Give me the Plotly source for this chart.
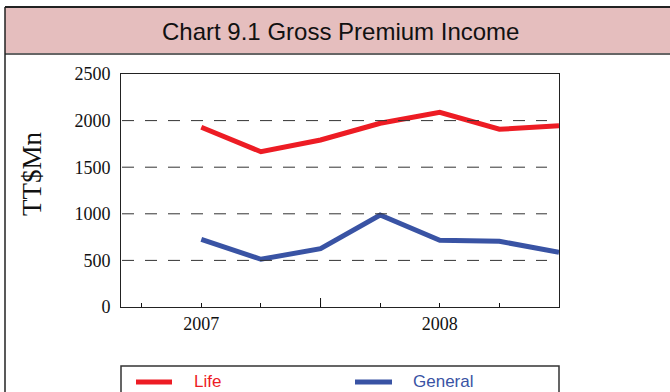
import plotly.graph_objects as go

# Quarterly gross premium income, TT$ millions
quarter = [1, 2, 3, 4, 5, 6, 7]
life = [1928, 1666, 1792, 1971, 2089, 1907, 1945]
general = [726, 512, 626, 987, 716, 705, 587]

year_ticks = [1, 5]
year_labels = ["2007", "2008"]
y_ticks = [0, 500, 1000, 1500, 2000, 2500]
grid_vals = [500, 1000, 1500, 2000]

RED = "#ED1C24"
BLUE = "#3953A4"

W, H = 670, 392
L, R, T, B = 121, 559, 74, 307


def px(x):
    return (x - L) / (R - L)


def py(y):
    return (B - y) / (B - T)


fig = go.Figure()
fig.add_trace(go.Scatter(x=quarter, y=life, mode="lines", name="Life",
                         line=dict(color=RED, width=5), showlegend=False))
fig.add_trace(go.Scatter(x=quarter, y=general, mode="lines", name="General",
                         line=dict(color=BLUE, width=5), showlegend=False))

shapes = []
# title band
shapes.append(dict(type="rect", xref="paper", yref="paper",
                   x0=px(5), x1=px(675), y0=py(54), y1=py(7),
                   fillcolor="#E5BEBE", line=dict(width=0), layer="below"))
shapes.append(dict(type="line", xref="paper", yref="paper",
                   x0=px(5), x1=px(675), y0=py(7), y1=py(7),
                   line=dict(color="#222222", width=2)))
shapes.append(dict(type="line", xref="paper", yref="paper",
                   x0=px(5), x1=px(675), y0=py(54), y1=py(54),
                   line=dict(color="#666666", width=2)))
shapes.append(dict(type="line", xref="paper", yref="paper",
                   x0=px(5), x1=px(5), y0=py(7), y1=py(400),
                   line=dict(color="#222222", width=1.5)))
# dashed grid
for v in grid_vals:
    shapes.append(dict(type="line", xref="paper", yref="y",
                       x0=px(122), x1=px(547), y0=v, y1=v,
                       line=dict(color="#333333", width=1, dash="12px,11px")))
# year divider tick
shapes.append(dict(type="line", xref="x", yref="paper",
                   x0=3, x1=3, y0=0, y1=9 / (B - T),
                   line=dict(color="#111111", width=1)))
# legend box and keys
shapes.append(dict(type="rect", xref="paper", yref="paper",
                   x0=px(121), x1=px(559), y0=py(366), y1=py(400),
                   line=dict(color="#333333", width=1.5), fillcolor="rgba(0,0,0,0)"))
shapes.append(dict(type="line", xref="paper", yref="paper",
                   x0=px(136), x1=px(172), y0=py(382), y1=py(382),
                   line=dict(color=RED, width=5)))
shapes.append(dict(type="line", xref="paper", yref="paper",
                   x0=px(355), x1=px(392), y0=py(382), y1=py(382),
                   line=dict(color=BLUE, width=5)))

annotations = [
    dict(text="Chart 9.1 Gross Premium Income", xref="paper", yref="paper",
         x=px(340), y=py(32), showarrow=False, xanchor="center", yanchor="middle",
         font=dict(family="Liberation Sans", size=24, color="#111111")),
    dict(text="TT$Mn", xref="paper", yref="paper", x=px(32), y=py(174),
         showarrow=False, textangle=-90, xanchor="center", yanchor="middle",
         font=dict(family="Liberation Serif", size=27, color="#111111")),
    dict(text="Life", xref="paper", yref="paper", x=px(192), y=py(381),
         showarrow=False, xanchor="left", yanchor="middle",
         font=dict(family="Liberation Sans", size=17, color=RED)),
    dict(text="General", xref="paper", yref="paper", x=px(411), y=py(381),
         showarrow=False, xanchor="left", yanchor="middle",
         font=dict(family="Liberation Sans", size=17, color=BLUE)),
]

fig.update_layout(
    width=W, height=H,
    margin=dict(l=L, r=W - R, t=T, b=H - B),
    paper_bgcolor="white", plot_bgcolor="white",
    showlegend=False,
    shapes=shapes, annotations=annotations,
    xaxis=dict(range=[-0.347, 7], tickvals=year_ticks, ticktext=year_labels,
               ticks="inside", ticklen=4, tickcolor="#111111",
               minor=dict(dtick=1, tick0=0, ticks="inside", ticklen=4,
                          tickcolor="#111111", showgrid=False),
               showgrid=False, zeroline=False, showline=True, mirror=True,
               linecolor="#222222", linewidth=1,
               tickfont=dict(family="Liberation Serif", size=18, color="#111111")),
    yaxis=dict(range=[0, 2500], tickvals=y_ticks, ticks="", showgrid=False,
               zeroline=False, showline=True, mirror=True,
               linecolor="#222222", linewidth=1, ticklabelstandoff=6,
               tickfont=dict(family="Liberation Serif", size=18, color="#111111")),
)

fig.write_html("out.html")
